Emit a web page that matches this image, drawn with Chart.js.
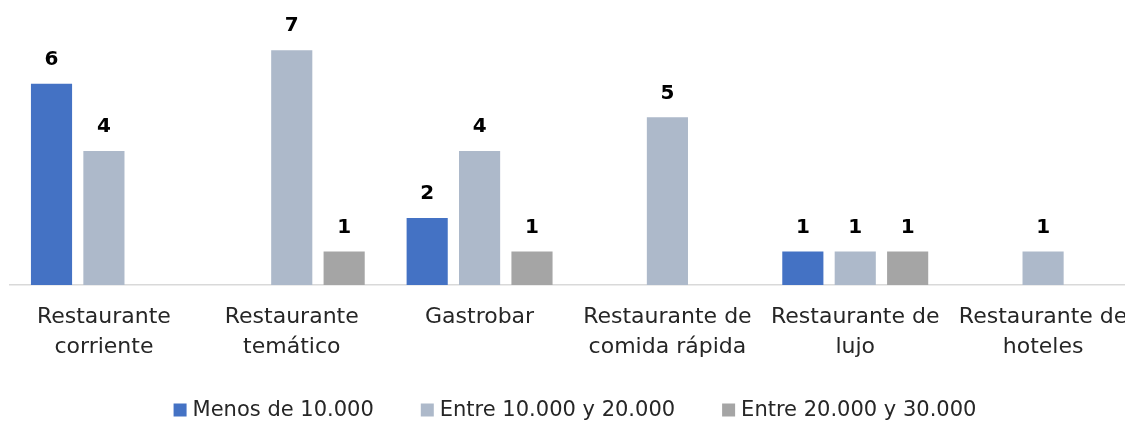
<!DOCTYPE html>
<html>
<head>
<meta charset="utf-8">
<script src="https://cdn.jsdelivr.net/npm/chart.js@4.4.0/dist/chart.umd.min.js"></script>
<style>
  html, body { margin: 0; padding: 0; background: #ffffff; overflow: hidden; }
  #wrap { width: 1125px; height: 422px; overflow: hidden; position: relative; }
  #c { position: absolute; left: 0; top: 0; }
</style>
</head>
<body>
<div id="wrap"><canvas id="c" width="1137" height="422"></canvas></div>
<script>
const categories = [
  ['Restaurante', 'corriente'],
  ['Restaurante', 'temático'],
  ['Gastrobar'],
  ['Restaurante de', 'comida rápida'],
  ['Restaurante de', 'lujo'],
  ['Restaurante de', 'hoteles']
];
const seriesNames = ['Menos de 10.000', 'Entre 10.000 y 20.000', 'Entre 20.000 y 30.000'];
const menos10 = [6, 0, 2, 0, 1, 0];
const entre10y20 = [4, 7, 4, 5, 1, 1];
const entre20y30 = [0, 1, 1, 0, 1, 0];
const colors = ['#4472C4', '#ADB9CA', '#A5A5A5'];

const FONT = "'DejaVu Sans', sans-serif";

const valueLabels = {
  id: 'valueLabels',
  afterDatasetsDraw(chart) {
    const ctx = chart.ctx;
    ctx.save();
    ctx.font = "bold 20px " + FONT;
    ctx.fillStyle = '#000000';
    ctx.textAlign = 'center';
    ctx.textBaseline = 'middle';
    chart.data.datasets.forEach((ds, di) => {
      const meta = chart.getDatasetMeta(di);
      meta.data.forEach((bar, i) => {
        const v = ds.data[i];
        if (!v) return;
        ctx.fillText(String(v), bar.x, bar.y - 24);
      });
    });
    ctx.restore();
  }
};

const bottomLegend = {
  id: 'bottomLegend',
  afterDraw(chart) {
    const ctx = chart.ctx;
    ctx.save();
    ctx.font = "21px " + FONT;
    ctx.textBaseline = 'middle';
    ctx.textAlign = 'left';
    const box = 13, gap = 6, itemGap = 47, cy = 410, centerX = 575;
    const items = chart.data.datasets.map(ds => ({ text: ds.label, color: ds.backgroundColor, w: ctx.measureText(ds.label).width }));
    let total = 0;
    items.forEach((it, i) => { total += box + gap + it.w + (i < items.length - 1 ? itemGap : 0); });
    let x = centerX - total / 2;
    items.forEach(it => {
      ctx.fillStyle = it.color;
      ctx.fillRect(x, cy - box / 2, box, box);
      ctx.fillStyle = '#262626';
      ctx.fillText(it.text, x + box + gap, cy + 1);
      x += box + gap + it.w + itemGap;
    });
    ctx.restore();
  }
};

new Chart(document.getElementById('c'), {
  type: 'bar',
  data: {
    labels: categories,
    datasets: [
      { label: seriesNames[0], data: menos10, backgroundColor: colors[0] },
      { label: seriesNames[1], data: entre10y20, backgroundColor: colors[1] },
      { label: seriesNames[2], data: entre20y30, backgroundColor: colors[2] }
    ]
  },
  options: {
    responsive: false,
    animation: false,
    devicePixelRatio: 1,
    categoryPercentage: 0.837,
    barPercentage: 0.785,
    layout: { padding: { left: 10, right: 0, top: 0, bottom: 51 } },
    scales: {
      x: {
        grid: { display: false },
        border: { display: true, color: '#D9D9D9', width: 1.5 },
        ticks: {
          color: '#262626',
          font: { family: FONT, size: 22, lineHeight: 30 / 22 },
          maxRotation: 0, minRotation: 0, autoSkip: false, padding: 9
        }
      },
      y: { display: false, min: 0, max: 8.5 }
    },
    plugins: {
      legend: { display: false },
      tooltip: { enabled: false }
    }
  },
  plugins: [valueLabels, bottomLegend]
});
</script>
</body>
</html>
